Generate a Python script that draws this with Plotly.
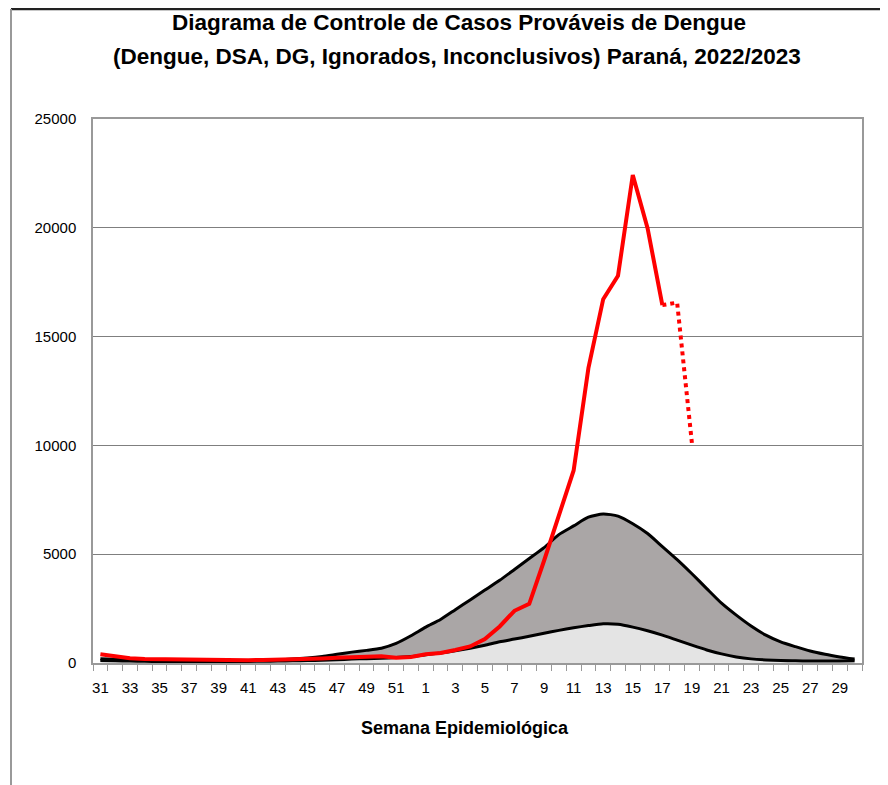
import plotly.graph_objects as go

# ---- data ----
weeks = [str(w) for w in range(31, 53)] + [str(w) for w in range(1, 31)]

upper_limit = [200, 170, 150, 140, 130, 120, 110, 100, 100, 100, 110, 120, 150, 180,
               230, 300, 400, 500, 580, 680, 900, 1250,
               1650, 2000, 2450, 2900, 3350, 3800, 4300, 4800, 5300, 5900, 6300, 6700,
               6850, 6750, 6400, 5950, 5350, 4750, 4100, 3420, 2750, 2200, 1700, 1280,
               970, 750, 550, 400, 280, 180]

mean_line = [120, 100, 90, 80, 70, 70, 60, 60, 60, 60, 70, 80, 90, 100, 110, 130, 150,
             180, 200, 220, 250, 300,
             380, 460, 560, 680, 820, 980, 1100, 1230, 1370, 1500, 1620, 1720, 1800,
             1780, 1650, 1480, 1280, 1050, 820, 600, 420, 280, 190, 140, 110, 100, 90,
             90, 90, 100]

cases_weeks = [str(w) for w in range(31, 53)] + [str(w) for w in range(1, 18)]
cases = [400, 300, 220, 180, 170, 150, 130, 120, 110, 110, 130, 140, 150, 150, 170,
         210, 240, 260, 280, 310, 240, 280,
         400, 460, 600, 760, 1100, 1680, 2400, 2720, 4700, 6800, 8850, 13550, 16720,
         17790, 22430, 19980, 16450]

pending_weeks = ["17", "18", "19"]
pending_cases = [16450, 16560, 10100]

tick_labels = [w for i, w in enumerate(weeks) if i % 2 == 0]

idx = {w: i for i, w in enumerate(weeks)}
x_all = [idx[w] for w in weeks]
x_cases = [idx[w] for w in cases_weeks]
x_pending = [idx[w] for w in pending_weeks]
tick_vals = [idx[w] for w in tick_labels]

# ---- geometry (page pixels; the page has an 8px body margin) ----
OFF = 8
W, H = 888 - OFF, 785 - OFF
L, R, T, B = 93 - OFF, 862 - OFF, 119 - OFF, 663 - OFF


def px_x(p):
    return (p - OFF - L) / (R - L)


def px_y(p):
    return (B - (p - OFF)) / (B - T)


FONT = "Liberation Sans, Arial, sans-serif"

fig = go.Figure()
fig.add_trace(go.Scatter(x=x_all, y=mean_line, mode="lines", fill="tozeroy",
                         fillcolor="#e4e4e4",
                         line=dict(color="black", width=3, shape="spline", smoothing=0.6),
                         showlegend=False, hoverinfo="skip"))
fig.add_trace(go.Scatter(x=x_all, y=upper_limit, mode="lines", fill="tonexty",
                         fillcolor="#aaa6a6",
                         line=dict(color="black", width=3, shape="spline", smoothing=0.6),
                         showlegend=False, hoverinfo="skip"))
fig.add_trace(go.Scatter(x=x_cases, y=cases, mode="lines",
                         line=dict(color="#ff0000", width=4),
                         showlegend=False))
fig.add_trace(go.Scatter(x=x_pending, y=pending_cases, mode="lines",
                         line=dict(color="#ff0000", width=4, dash="dot"),
                         showlegend=False))

fig.update_layout(
    width=W, height=H,
    margin=dict(l=L, r=W - R, t=T, b=H - B, pad=0),
    paper_bgcolor="white", plot_bgcolor="white",
    font=dict(family=FONT, size=15, color="black"),
    showlegend=False,
)

fig.update_xaxes(
    range=[-0.5, len(weeks) - 0.5],
    tickmode="array", tickvals=tick_vals, ticktext=tick_labels,
    ticks="outside", ticklen=10, tickcolor="rgba(0,0,0,0)",
    tickfont=dict(size=15, family=FONT),
    minor=dict(tickmode="linear", tick0=-0.5, dtick=1, ticks="outside", ticklen=6,
               tickcolor="#999999", showgrid=False),
    showgrid=False, zeroline=False,
    showline=True, linecolor="#999999", linewidth=1.5, mirror=True,
)
fig.update_yaxes(
    range=[0, 25000], dtick=5000, tickformat="d",
    ticks="outside", ticklen=12, tickcolor="rgba(0,0,0,0)",
    tickfont=dict(size=15, family=FONT),
    showgrid=True, gridcolor="#7f7f7f", gridwidth=1,
    zeroline=False,
    showline=True, linecolor="#999999", linewidth=1.5, mirror=True,
)

annotations = [
    dict(text="<b>Diagrama de Controle de Casos Prováveis de Dengue</b>",
         x=px_x(459), y=px_y(23), xref="paper", yref="paper", showarrow=False,
         xanchor="center", yanchor="middle", font=dict(size=22.5, family=FONT)),
    dict(text="<b>(Dengue, DSA, DG, Ignorados, Inconclusivos) Paraná, 2022/2023</b>",
         x=px_x(457), y=px_y(57), xref="paper", yref="paper", showarrow=False,
         xanchor="center", yanchor="middle", font=dict(size=22.5, family=FONT)),
    dict(text="<b>Semana Epidemiológica</b>",
         x=px_x(465), y=px_y(728), xref="paper", yref="paper", showarrow=False,
         xanchor="center", yanchor="middle", font=dict(size=18, family=FONT)),
]
fig.update_layout(annotations=annotations)

shapes = [
    dict(type="line", xref="paper", yref="paper", x0=px_x(11), x1=px_x(888),
         y0=px_y(9), y1=px_y(9), line=dict(color="#222222", width=2.5)),
    dict(type="line", xref="paper", yref="paper", x0=px_x(11), x1=px_x(11),
         y0=px_y(9), y1=px_y(785), line=dict(color="#999999", width=2)),
]
fig.update_layout(shapes=shapes)

fig.write_html("out.html")
